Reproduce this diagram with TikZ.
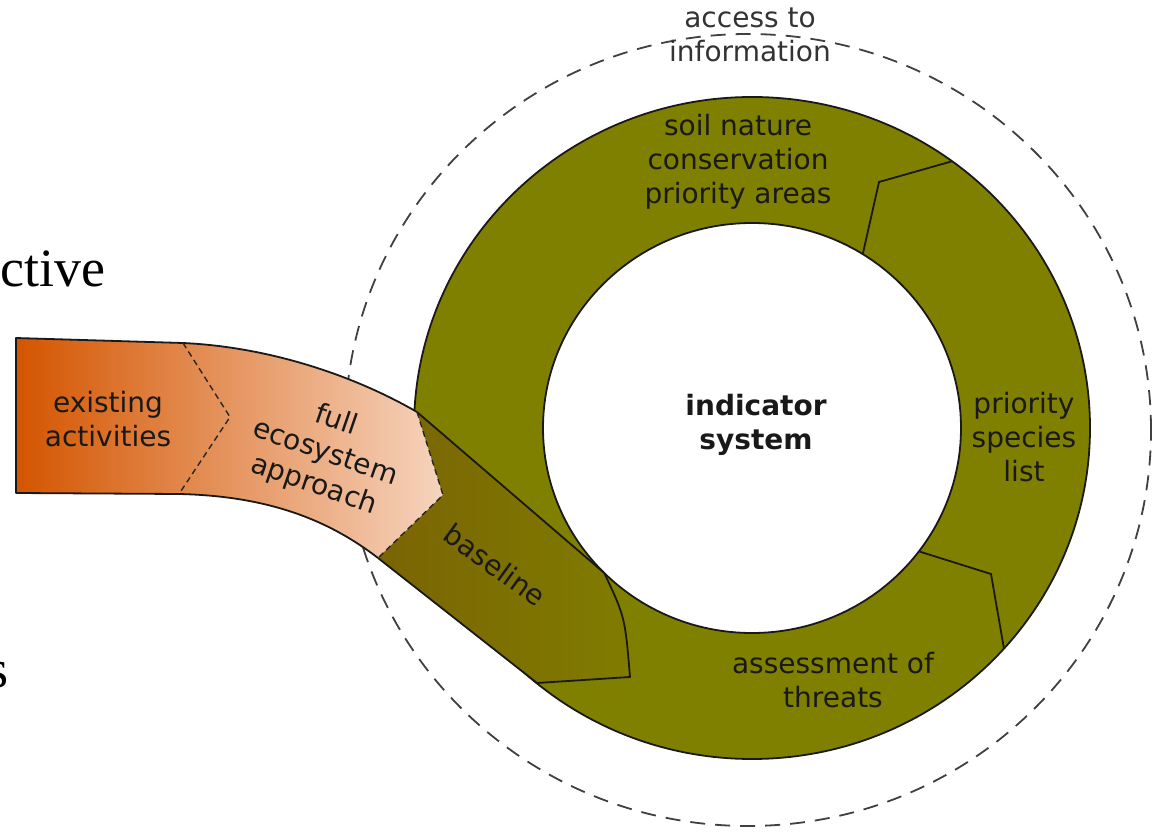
\documentclass[tikz,border=0pt]{standalone}
\usepackage{fontspec}
\newfontfamily\labelfont{DejaVu Sans}
\newfontfamily\bodyfont{Liberation Serif}
\usetikzlibrary{shadings}

\definecolor{ringolive}{RGB}{128,128,0}
\definecolor{baseleft}{RGB}{122,100,4}
\definecolor{baseright}{RGB}{128,124,0}
\definecolor{bandleft}{RGB}{212,85,0}
\definecolor{bandright}{RGB}{246,212,190}

\begin{document}
\begin{tikzpicture}[x=1pt,y=1pt]
    \tikzstyle{lbl}=[font=\labelfont\fontsize{28}{34}\selectfont,align=center,text=black!90,inner sep=0]
    \tikzstyle{edge}=[draw=black!90,line width=1.8pt,line join=round]
    \tikzstyle{cut}=[draw=black!85,line width=1.4pt,dash pattern=on 6pt off 4pt]
    \tikzstyle{ringcut}=[draw=black!90,line width=1.8pt]
    \useasboundingbox (0,0) rectangle (1159,831);

    \coordinate (ctr) at (752,403);
    \coordinate (info) at (748,401);

    % band corners
    \coordinate (A) at (16,493);
    \coordinate (B) at (183,488);
    \coordinate (C) at (417,419);
    \coordinate (D) at ([shift={(ctr)}]225:209pt and 205pt);
    \coordinate (E) at (630,154);
    \coordinate (F) at (537,148);
    \coordinate (G) at (378,273);
    \coordinate (H) at (179,337);
    \coordinate (I) at (16,338);
    \coordinate (V1) at (230,414);
    \coordinate (V2) at (443,336);

    % dashed boundary
    \draw[black!75,line width=1.8pt,dash pattern=on 15pt off 10pt]
        (info) ellipse [x radius=403pt,y radius=396pt];

    % the cycle
    \path[fill=ringolive,even odd rule]
        (ctr) ellipse [x radius=338pt,y radius=331pt]
        (ctr) ellipse [x radius=209pt,y radius=205pt];
    \draw[edge] (ctr) ellipse [x radius=338pt,y radius=331pt];
    \draw[edge] (ctr) ellipse [x radius=209pt,y radius=205pt];
    \draw[ringcut] ([shift={(ctr)}]53.7:338pt and 331pt) -- (879,649)
        -- ([shift={(ctr)}]58:209pt and 205pt);
    \draw[ringcut] ([shift={(ctr)}]-37:209pt and 205pt) -- (991,257)
        -- ([shift={(ctr)}]-41.8:338pt and 331pt);

    % orange band
    \path[left color=bandleft,right color=bandright]
        (A) -- (B) .. controls (270,484) and (355,455) .. (C) -- (V2) -- (G)
        .. controls (330,310) and (270,335) .. (H) -- (I) -- cycle;
    \draw[edge] (C) .. controls (355,455) and (270,484) .. (B) -- (A) -- (I) -- (H)
        .. controls (270,335) and (330,310) .. (G);

    % baseline piece
    \path[left color=baseleft,right color=baseright]
        (C) -- (D) .. controls (625,214) .. (E) -- (F) -- (G) -- (V2) -- cycle;
    \draw[edge] (C) -- (D) .. controls (625,214) .. (E) -- (F) -- (G);

    \draw[cut] (B) -- (V1) -- (H);
    \draw[cut] (C) -- (V2) -- (G);

    % labels
    \node[lbl] (existing) at (108,412) {existing\\activities};
    \node[lbl,rotate=-19] (full) at (325,378) {full\\ecosystem\\approach};
    \node[lbl,rotate=-36] (baseline) at (495,266) {baseline};
    \node[lbl] (soil) at (738,669) {soil nature\\conservation\\priority areas};
    \node[lbl] (species) at (1024,394) {priority\\species\\list};
    \node[lbl] (threats) at (833,151) {assessment of\\threats};
    \node[lbl,font=\labelfont\bfseries\fontsize{28}{34}\selectfont] (system) at (756,406) {indicator\\system};
    \node[lbl,text=black!80] (access) at (750,796) {access to\\information};

    % running text beside the figure
    \node[font=\bodyfont\fontsize{54}{60}\selectfont,anchor=base west,inner sep=0] (ctive) at (0,544) {ctive};
    \node[font=\bodyfont\fontsize{54}{60}\selectfont,anchor=base east,inner sep=0] (s) at (9,144) {s};
\end{tikzpicture}
\end{document}
